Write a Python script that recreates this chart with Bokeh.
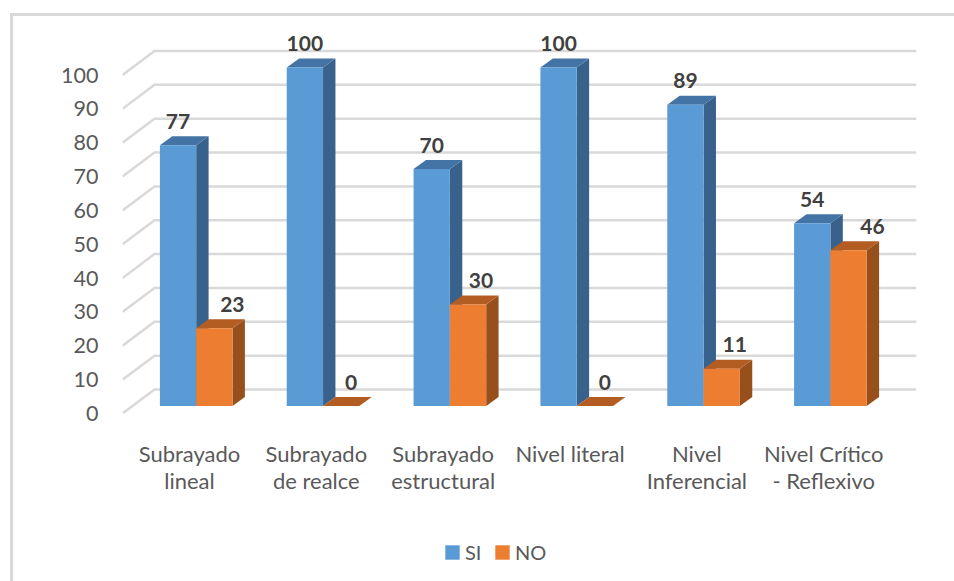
from bokeh.plotting import figure
from bokeh.layouts import column
from bokeh.models import Range1d, FixedTicker, Legend, LegendItem, LinearAxis
from bokeh.core.properties import value
from bokeh.embed import file_html
from bokeh.resources import INLINE

categories = ["Subrayado\nlineal", "Subrayado\nde realce", "Subrayado\nestructural",
              "Nivel literal", "Nivel\nInferencial", "Nivel Crítico\n- Reflexivo"]
si_values = [77, 100, 70, 100, 89, 54]
no_values = [23, 0, 30, 0, 11, 46]
y_ticks = [0, 10, 20, 30, 40, 50, 60, 70, 80, 90, 100]

FONT = "Lato"
BLUE, ORANGE = "#5B9BD5", "#ED7D31"
PX_X = 126.84   # pixels per category
PX_Y = 3.385    # pixels per value unit
BAR_W = 36.3 / PX_X
BAR_SHIFT = 6.7 / PX_X
FLOOR = 7.5 / PX_Y
BAR_DX, BAR_DY = 12.4 / PX_X, 9 / PX_Y
WALL_DX, WALL_DY = 32 / PX_X, 24 / PX_Y
X0, X1 = -67 / PX_X, 727 / PX_X
Y1 = 391 / PX_Y
NO_LABEL_SHIFT = [18, 10, 13, 10, 13, 24]

p = figure(width=954, height=525, output_backend="svg", toolbar_location=None,
           x_range=Range1d(X0, X1), y_range=Range1d(0, Y1),
           min_border_left=122, min_border_right=38, min_border_top=22, min_border_bottom=112,
           x_axis_location=None, y_axis_location=None, outline_line_color=None,
           background_fill_alpha=0, border_fill_alpha=0)
p.grid.visible = False

yaxis = LinearAxis(ticker=FixedTicker(ticks=y_ticks), axis_line_color=None,
                   major_tick_line_color=None, minor_tick_line_color=None,
                   major_label_standoff=18, major_label_text_font=FONT,
                   major_label_text_font_size="21.5px", major_label_text_color="#595959")
p.add_layout(yaxis, "left")
xaxis = LinearAxis(ticker=FixedTicker(ticks=list(range(len(categories)))), axis_line_color=None,
                   major_tick_line_color=None, minor_tick_line_color=None,
                   major_label_overrides={i: c for i, c in enumerate(categories)},
                   major_label_standoff=20, major_label_text_font=FONT,
                   major_label_text_font_size="22px", major_label_text_color="#595959",
                   major_label_text_line_height=1.02)
p.add_layout(xaxis, "below")

# bent gridlines: side wall then back wall
p.multi_line([[X0, X0 + WALL_DX, X1] for _ in y_ticks],
             [[v, v + WALL_DY, v + WALL_DY] for v in y_ticks],
             line_color="#D9D9D9", line_width=2.5)

def faces(vals, lefts):
    front_x, front_y, side_x, side_y, top_x, top_y = [], [], [], [], [], []
    for v, l in zip(vals, lefts):
        r = l + BAR_W
        t = FLOOR + v
        front_x.append([l, r, r, l]); front_y.append([FLOOR, FLOOR, t, t])
        side_x.append([r, r + BAR_DX, r + BAR_DX, r])
        side_y.append([FLOOR, FLOOR + BAR_DY, t + BAR_DY, t])
        top_x.append([l, r, r + BAR_DX, l + BAR_DX])
        top_y.append([t, t, t + BAR_DY, t + BAR_DY])
    return front_x, front_y, side_x, side_y, top_x, top_y

idx = list(range(len(categories)))
si_left = [i + BAR_SHIFT - BAR_W for i in idx]
no_left = [i + BAR_SHIFT for i in idx]

def draw(vals, lefts, front, side, top):
    fx, fy, sx, sy, tx, ty = faces(vals, lefts)
    p.patches(sx, sy, fill_color=side, line_color=None)
    p.patches(tx, ty, fill_color=top, line_color=None)
    return p.patches(fx, fy, fill_color=front, line_color=None)

draw(si_values, si_left, BLUE, "#38618C", "#4374A5")
draw(no_values, no_left, ORANGE, "#97501C", "#B35D22")

p.text([l + BAR_W / 2 for l in si_left], [FLOOR + v for v in si_values], text=[str(v) for v in si_values],
       y_offset=-24, text_align="center", text_baseline="middle", text_font=value(FONT),
       text_font_style="bold", text_font_size="21px", text_color="#404040")
p.text([l + BAR_W / 2 for l in no_left], [FLOOR + v for v in no_values], text=[str(v) for v in no_values],
       x_offset=NO_LABEL_SHIFT, y_offset=-24, text_align="center", text_baseline="middle", text_font=value(FONT),
       text_font_style="bold", text_font_size="21px", text_color="#404040")

# legend strip under the plot
q = figure(width=954, height=56, output_backend="svg", toolbar_location=None,
           x_range=Range1d(0, 1), y_range=Range1d(0, 1),
           min_border_left=0, min_border_right=0, min_border_top=0, min_border_bottom=0,
           x_axis_location=None, y_axis_location=None, outline_line_color=None,
           background_fill_alpha=0, border_fill_alpha=0)
q.grid.visible = False
r_si = q.patches([[]], [[]], fill_color=BLUE, line_color=None)
r_no = q.patches([[]], [[]], fill_color=ORANGE, line_color=None)
legend = Legend(items=[LegendItem(label="SI", renderers=[r_si]), LegendItem(label="NO", renderers=[r_no])],
                orientation="horizontal", location=(321, 17), background_fill_alpha=0, border_line_color=None,
                padding=0, margin=0, spacing=8, glyph_width=18, glyph_height=18, label_standoff=4,
                label_text_font=FONT, label_text_font_size="20px", label_text_color="#595959", label_height=18)
q.add_layout(legend, "center")

BORDER = "linear-gradient(#D9D9D9,#D9D9D9)"
page = column(p, q, spacing=0, width=954, height=581,
              styles={"background": f"{BORDER} 10px 13px/100% 3px no-repeat, {BORDER} 10px 13px/3px 100% no-repeat"})

open("out.html", "w").write(file_html(page, INLINE))
